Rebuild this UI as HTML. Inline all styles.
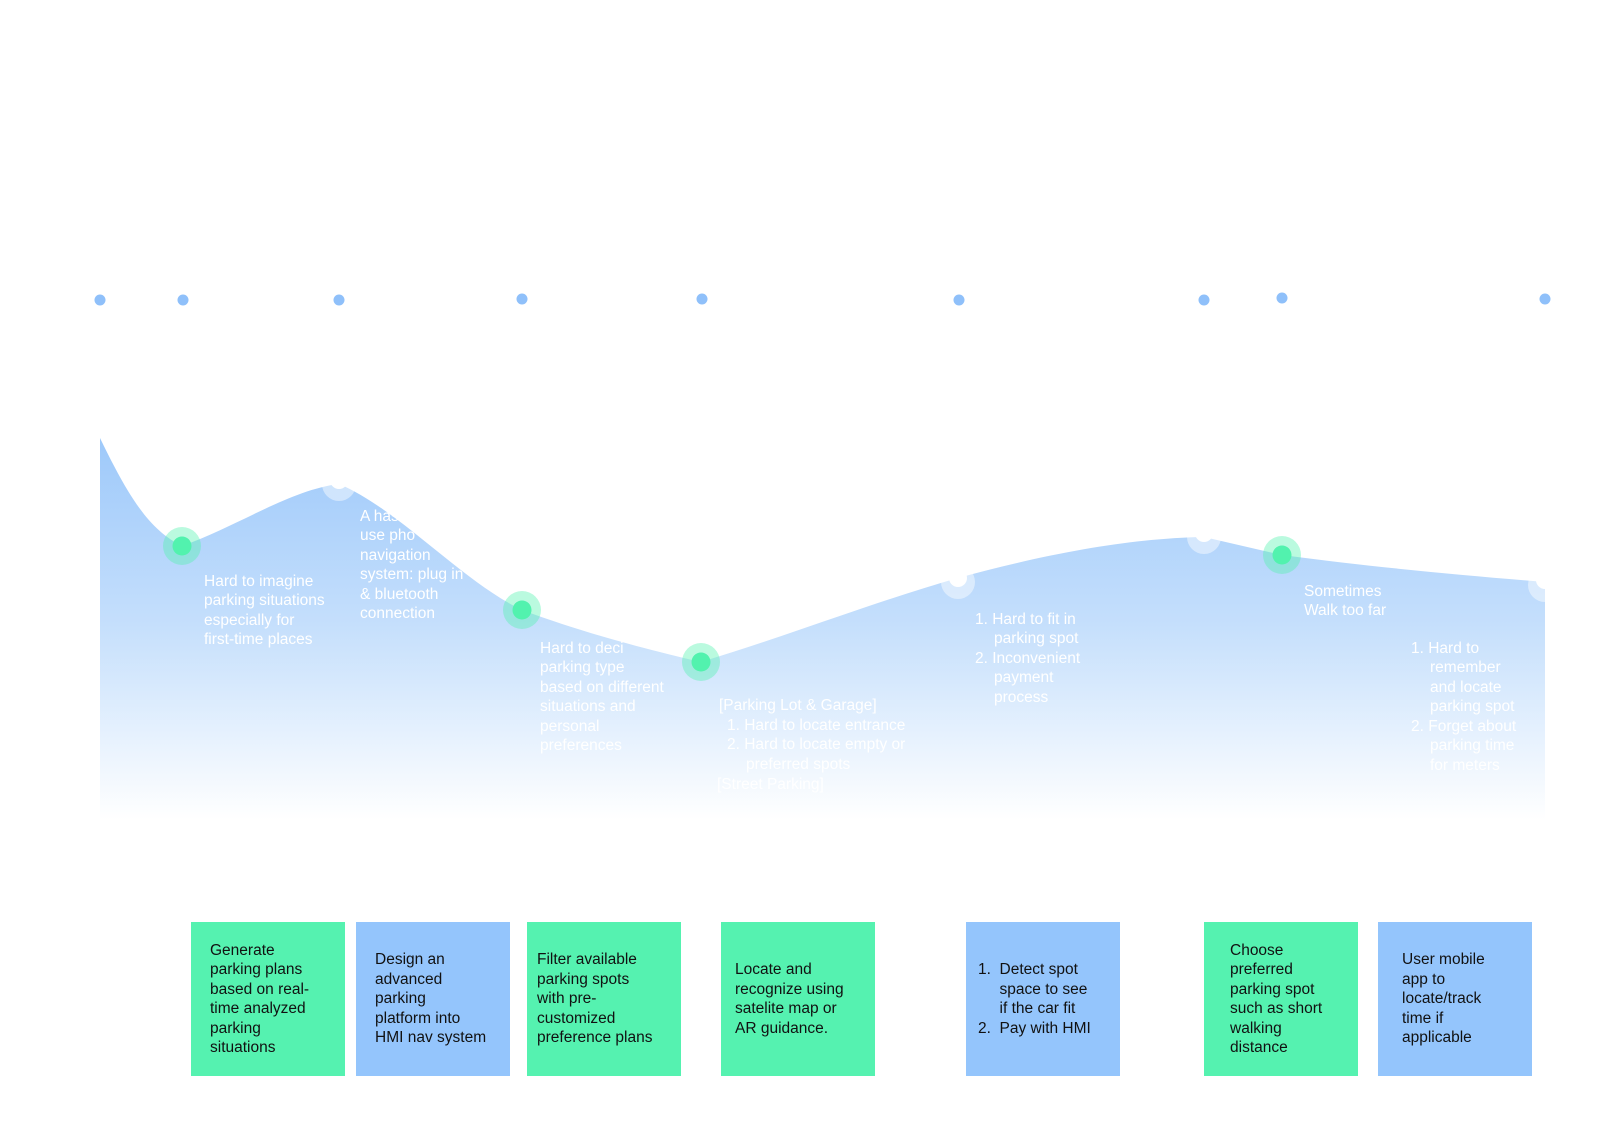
<!DOCTYPE html>
<html><head><meta charset="utf-8"><style>
body{margin:0;width:1620px;height:1126px;background:#fff;position:relative;overflow:hidden;font-family:"Liberation Sans",sans-serif}
.b{position:absolute;top:922px;width:154px;height:154px;box-sizing:border-box;padding-left:19px;font-size:15.5px;line-height:19.5px;color:#111;display:flex;align-items:center}
.g{background:#55f2b0}.u{background:#94c5fc}
svg{position:absolute;left:0;top:0}
</style></head><body>
<svg width="1620" height="1126" viewBox="0 0 1620 1126">
<defs><linearGradient id="gr" x1="0" y1="430" x2="0" y2="820" gradientUnits="userSpaceOnUse">
<stop offset="0" stop-color="#9cc8fa"/><stop offset="0.5" stop-color="#c5dffc"/><stop offset="1" stop-color="#ffffff"/></linearGradient></defs>
<g fill="#8fc0fa"><circle cx="100" cy="300" r="5.5"/><circle cx="183" cy="300" r="5.5"/><circle cx="339" cy="300" r="5.5"/><circle cx="522" cy="299" r="5.5"/><circle cx="702" cy="299" r="5.5"/><circle cx="959" cy="300" r="5.5"/><circle cx="1204" cy="300" r="5.5"/><circle cx="1282" cy="298" r="5.5"/><circle cx="1545" cy="299" r="5.5"/></g>
<path d="M100,438 C130,500 150,530 182,546 C240,525 290,490 339,484 C400,510 460,580 522,610 C590,635 650,650 701,662 C790,635 880,600 958,578 C1060,550 1140,538 1204,537 L1282,555 C1380,568 1460,575 1545,582 L1545,820 L100,820 Z" fill="url(#gr)"/>
<g fill="#ffffff" fill-opacity="0.45"><circle cx="339" cy="484" r="17"/><circle cx="958" cy="582" r="17"/><circle cx="1204" cy="537" r="17"/><circle cx="1545" cy="585" r="17"/></g>
<g fill="#fff"><circle cx="339" cy="480" r="9"/><circle cx="958" cy="578" r="9"/><circle cx="1204" cy="533" r="9"/><circle cx="1545" cy="580" r="9"/></g>
<g fill="#52f2ae" fill-opacity="0.4"><circle cx="182" cy="546" r="19"/><circle cx="522" cy="610" r="19"/><circle cx="701" cy="662" r="19"/><circle cx="1282" cy="555" r="19"/></g>
<g fill="#52f2ae"><circle cx="182" cy="546" r="9.5"/><circle cx="522" cy="610" r="9.5"/><circle cx="701" cy="662" r="9.5"/><circle cx="1282" cy="555" r="9.5"/></g>
<g fill="#fff" font-family="Liberation Sans, sans-serif" font-size="15.5">
<text x="204" y="586">Hard to imagine</text><text x="204" y="605">parking situations</text><text x="204" y="625">especially for</text><text x="204" y="644">first-time places</text>
<text x="360" y="521">A has</text><text x="360" y="540">use pho</text><text x="360" y="560">navigation</text><text x="360" y="579">system: plug in</text><text x="360" y="599">&amp; bluetooth</text><text x="360" y="618">connection</text>
<text x="540" y="653">Hard to deci</text><text x="540" y="672">parking type</text><text x="540" y="692">based on different</text><text x="540" y="711">situations and</text><text x="540" y="731">personal</text><text x="540" y="750">preferences</text>
<text x="719" y="710">[Parking Lot &amp; Garage]</text><text x="727" y="730">1.  Hard to locate entrance</text><text x="727" y="749">2.  Hard to locate empty or</text><text x="746" y="769">preferred spots</text><text x="717" y="789">[Street Parking]</text>
<text x="975" y="624">1.  Hard to fit in</text><text x="994" y="643">parking spot</text><text x="975" y="663">2.  Inconvenient</text><text x="994" y="682">payment</text><text x="994" y="702">process</text>
<text x="1304" y="596">Sometimes</text><text x="1304" y="615">Walk too far</text>
<text x="1411" y="653">1.  Hard to</text><text x="1430" y="672">remember</text><text x="1430" y="692">and locate</text><text x="1430" y="711">parking spot</text><text x="1411" y="731">2.  Forget about</text><text x="1430" y="750">parking time</text><text x="1430" y="770">for meters</text>
</g>
</svg>
<div class="b g" style="left:191px"><div>Generate<br>parking plans<br>based on real-<br>time analyzed<br>parking<br>situations</div></div>
<div class="b u" style="left:356px"><div>Design an<br>advanced<br>parking<br>platform into<br>HMI nav system</div></div>
<div class="b g" style="left:527px;padding-left:10px"><div>Filter available<br>parking spots<br>with pre-<br>customized<br>preference plans</div></div>
<div class="b g" style="left:721px;padding-left:14px"><div>Locate and<br>recognize using<br>satelite map or<br>AR guidance.</div></div>
<div class="b u" style="left:966px;padding-left:12px"><div>1.&nbsp; Detect spot<br>&nbsp;&nbsp;&nbsp;&nbsp;&nbsp;space to see<br>&nbsp;&nbsp;&nbsp;&nbsp;&nbsp;if the car fit<br>2.&nbsp; Pay with HMI</div></div>
<div class="b g" style="left:1204px;padding-left:26px"><div>Choose<br>preferred<br>parking spot<br>such as short<br>walking<br>distance</div></div>
<div class="b u" style="left:1378px;padding-left:24px"><div>User mobile<br>app to<br>locate/track<br>time if<br>applicable</div></div>
</body></html>
